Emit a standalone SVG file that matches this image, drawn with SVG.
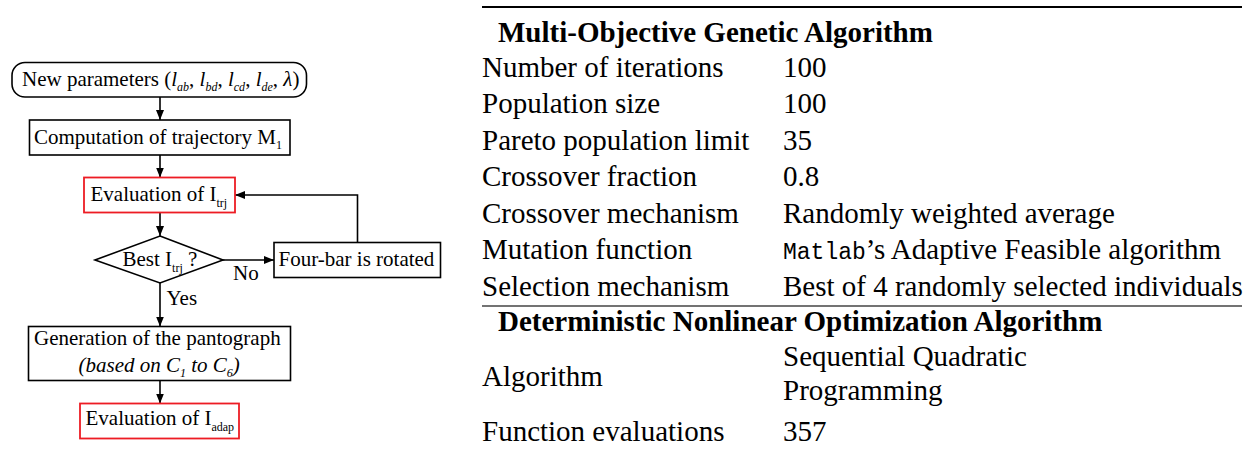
<svg xmlns="http://www.w3.org/2000/svg" width="1255" height="451" viewBox="0 0 1255 451">
<style>
.f{font-family:"Liberation Serif","Times New Roman",serif;font-size:21px;fill:#000}
.s{font-size:12px}
.i{font-style:italic}
.tb{font-family:"Liberation Serif","Times New Roman",serif;font-size:29px;fill:#000}
.hd{font-weight:bold}
.mono{font-family:"Liberation Mono","Courier New",monospace;font-size:23px}
.box{fill:#fff;stroke:#000;stroke-width:1.6}
.red{fill:#fff;stroke:#ed1c24;stroke-width:1.8}
.c{fill:none;stroke:#000;stroke-width:1.6}
</style>
<defs>
<marker id="ah" markerUnits="userSpaceOnUse" markerWidth="10" markerHeight="8" refX="10" refY="4" orient="auto">
<path d="M0,0 L10,4 L0,8 z" fill="#000"/>
</marker>
</defs>
<rect width="1255" height="451" fill="#fff"/>

<g id="connectors">
<line class="c" x1="160" y1="97" x2="160" y2="120" marker-end="url(#ah)"/>
<line class="c" x1="160" y1="155" x2="160" y2="177.5" marker-end="url(#ah)"/>
<line class="c" x1="160" y1="212.5" x2="160" y2="236" marker-end="url(#ah)"/>
<line class="c" x1="223" y1="260" x2="274" y2="260" marker-end="url(#ah)"/>
<path class="c" d="M357.5,242.5 V195 H235" marker-end="url(#ah)"/>
<line class="c" x1="160" y1="283" x2="160" y2="326.5" marker-end="url(#ah)"/>
<line class="c" x1="160" y1="380.5" x2="160" y2="403.5" marker-end="url(#ah)"/>
<text class="f" x="233" y="279.5">No</text>
<text class="f" x="166.5" y="305">Yes</text>
</g>

<g id="n1">
<rect class="box" x="12" y="62.5" width="294.5" height="34.5" rx="13"/>
<text class="f" x="22" y="85.5">New parameters (<tspan class="i">l</tspan><tspan class="s i" dy="5">ab</tspan><tspan dy="-5">, </tspan><tspan class="i">l</tspan><tspan class="s i" dy="5">bd</tspan><tspan dy="-5">, </tspan><tspan class="i">l</tspan><tspan class="s i" dy="5">cd</tspan><tspan dy="-5">, </tspan><tspan class="i">l</tspan><tspan class="s i" dy="5">de</tspan><tspan dy="-5">, </tspan><tspan class="i">λ</tspan>)</text>
</g>

<g id="n2">
<rect class="box" x="29.5" y="120" width="260.5" height="35"/>
<text class="f" x="34" y="143.5">Computation of trajectory M<tspan class="s" dy="5">1</tspan></text>
</g>

<g id="n3">
<rect class="red" x="84" y="177.5" width="151" height="35"/>
<text class="f" x="90.5" y="201">Evaluation of I<tspan class="s" dy="6">trj</tspan></text>
</g>

<g id="n4">
<polygon class="box" points="160,236 223,260 160,283 95,260"/>
<text class="f" x="122.5" y="266">Best I<tspan class="s" dy="6">trj</tspan><tspan dy="-6"> ?</tspan></text>
</g>

<g id="n5">
<rect class="box" x="274" y="242.5" width="166.5" height="35"/>
<text class="f" x="278.5" y="266">Four-bar is rotated</text>
</g>

<g id="n6">
<rect class="box" x="28.5" y="326.5" width="262" height="54"/>
<text class="f" x="34" y="345">Generation of the pantograph</text>
<text class="f i" x="78.5" y="372">(based on C<tspan class="s" dy="5">1</tspan><tspan dy="-5"> to C</tspan><tspan class="s" dy="5">6</tspan><tspan dy="-5">)</tspan></text>
</g>

<g id="n7">
<rect class="red" x="80" y="403.5" width="159" height="35"/>
<text class="f" x="85.5" y="424.5">Evaluation of I<tspan class="s" dy="6">adap</tspan></text>
</g>

<g id="table">
<line x1="482" y1="7" x2="1242" y2="7" stroke="#000" stroke-width="2.2"/>
<text class="tb hd" x="498" y="41.5">Multi-Objective Genetic Algorithm</text>
<text class="tb" x="482" y="76.5">Number of iterations</text>
<text class="tb" x="783" y="76.5">100</text>
<text class="tb" x="482" y="113">Population size</text>
<text class="tb" x="783" y="113">100</text>
<text class="tb" x="482" y="149.5">Pareto population limit</text>
<text class="tb" x="783" y="149.5">35</text>
<text class="tb" x="482" y="186">Crossover fraction</text>
<text class="tb" x="783" y="186">0.8</text>
<text class="tb" x="482" y="222.5">Crossover mechanism</text>
<text class="tb" x="783" y="222.5">Randomly weighted average</text>
<text class="tb" x="482" y="259.3">Mutation function</text>
<text class="tb" x="783" y="259.3"><tspan class="mono">Matlab</tspan>’s Adaptive Feasible algorithm</text>
<text class="tb" x="482" y="296">Selection mechanism</text>
<text class="tb" x="783" y="296">Best of 4 randomly selected individuals</text>
<line x1="482" y1="306" x2="1242" y2="306" stroke="#444" stroke-width="1.3"/>
<text class="tb hd" x="498" y="330.5">Deterministic Nonlinear Optimization Algorithm</text>
<text class="tb" x="482" y="386">Algorithm</text>
<text class="tb" x="783" y="365.5">Sequential Quadratic</text>
<text class="tb" x="783" y="400">Programming</text>
<text class="tb" x="482" y="440.5">Function evaluations</text>
<text class="tb" x="783" y="440.5">357</text>
</g>
</svg>
